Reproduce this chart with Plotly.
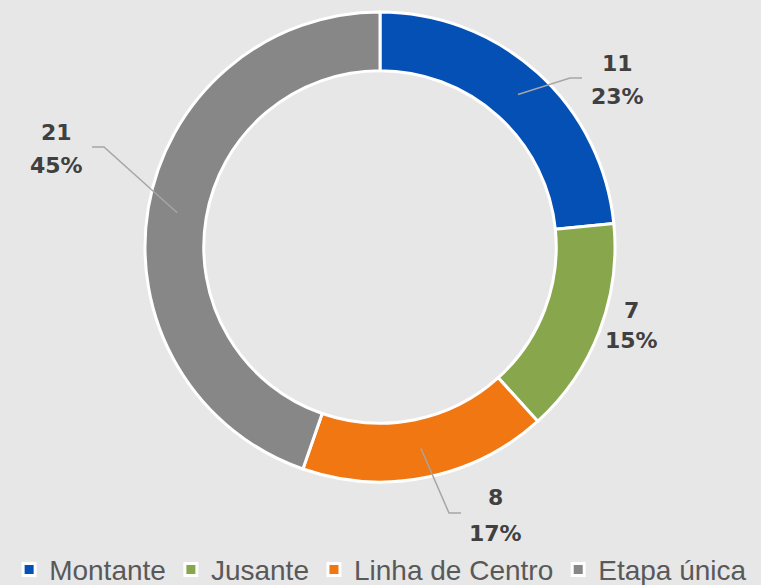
import math
import plotly.graph_objects as go

# ---- data ----
categories = ["Montante", "Jusante", "Linha de Centro", "Etapa única"]
values = [11, 7, 8, 21]
colors = ["#0450B4", "#88A74C", "#F07712", "#878787"]

# ---- layout constants ----
W, H = 761, 585
CX, CY, R_OUT = 380, 247, 235
HOLE = 0.75
BG = "#E7E7E7"
LABEL_COLOR = "#404040"
LINE_COLOR = "#A6A6A6"
# label text centres (pixels) and leader-line side (+1 right of anchor, -1 left, 0 none)
label_pos = [(617, 80), (631, 325), (496, 515), (57, 149)]
leader_side = [1, 0, 1, -1]
line_gap = [16.5, 15, 18, 16]

def px(x):
    return x / W

def py(y):
    return 1 - y / H

fig = go.Figure(
    go.Pie(
        labels=categories,
        values=values,
        sort=False,
        direction="clockwise",
        rotation=0,
        hole=HOLE,
        textinfo="none",
        hoverinfo="label+value+percent",
        marker=dict(colors=colors, line=dict(color="white", width=3)),
        domain=dict(x=[px(CX - R_OUT), px(CX + R_OUT)], y=[py(CY + R_OUT), py(CY - R_OUT)]),
    )
)

total = sum(values)
annotations = []
shapes = []
cum = 0
r_mid = R_OUT * (1 + HOLE) / 2
label_font = dict(family="DejaVu Sans", size=22, color=LABEL_COLOR)
for i, v in enumerate(values):
    mid = (cum + v / 2) / total * 2 * math.pi
    cum += v
    lx, ly = label_pos[i]
    g = line_gap[i]
    pct = f"{round(v / total * 100)}%"
    annotations.append(dict(x=px(lx), y=py(ly - g), xref="paper", yref="paper",
                            text=f"<b>{v}</b>", showarrow=False, font=label_font,
                            xanchor="center", yanchor="middle"))
    annotations.append(dict(x=px(lx), y=py(ly + g), xref="paper", yref="paper",
                            text=f"<b>{pct}</b>", showarrow=False, font=label_font,
                            xanchor="center", yanchor="middle"))
    side = leader_side[i]
    if side != 0:
        sx = CX + r_mid * math.sin(mid)
        sy = CY - r_mid * math.cos(mid)
        hy = ly - 2
        ex = lx - side * 35
        bx = lx - side * 47
        path = f"M {px(sx)} {py(sy)} L {px(bx)} {py(hy)} L {px(ex)} {py(hy)}"
        shapes.append(dict(type="path", path=path, xref="paper", yref="paper",
                           line=dict(color=LINE_COLOR, width=1.5), layer="above"))

fig.update_layout(
    width=W,
    height=H,
    margin=dict(l=0, r=0, t=0, b=0, autoexpand=False),
    paper_bgcolor=BG,
    plot_bgcolor=BG,
    annotations=annotations,
    shapes=shapes,
    showlegend=True,
    legend=dict(
        orientation="h",
        x=0.012,
        xanchor="left",
        y=0.026,
        yanchor="middle",
        font=dict(family="Liberation Sans, Arial", size=28, color="#595959"),
        bgcolor="rgba(0,0,0,0)",
        itemclick=False,
    ),
)

fig.write_html(
    "out.html",
    config={"displayModeBar": False},
    post_script="document.body.style.margin='0';document.body.style.padding='0';document.body.style.overflow='hidden';",
)
